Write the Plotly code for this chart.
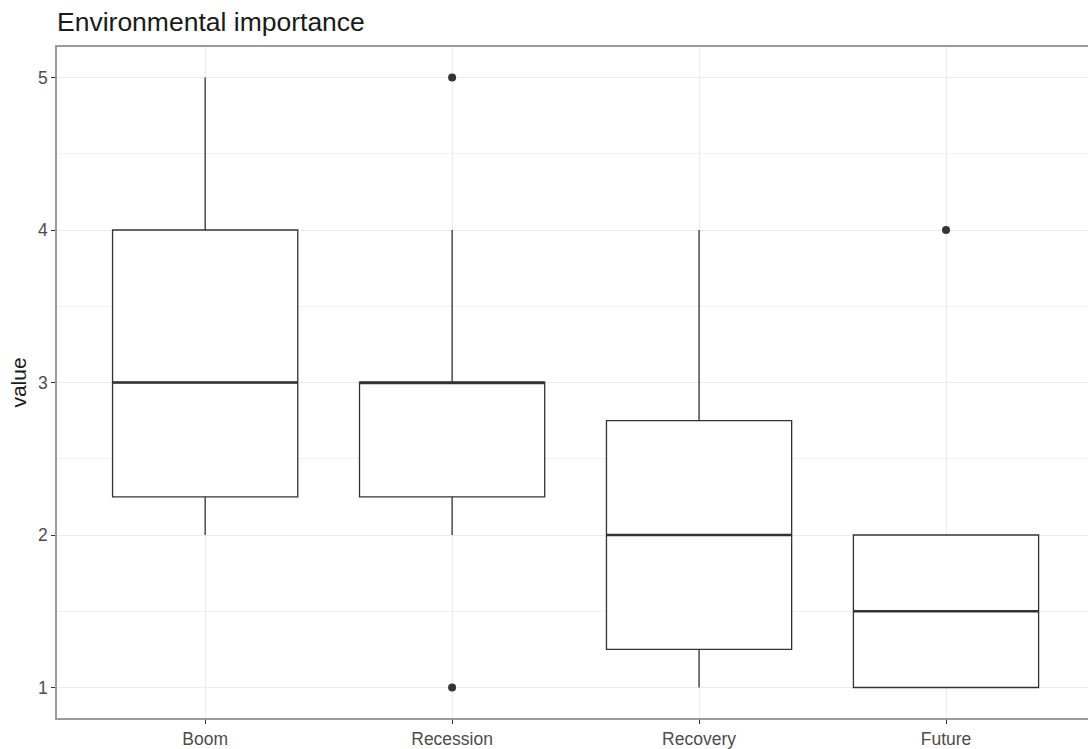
import plotly.graph_objects as go

categories = ["Boom", "Recession", "Recovery", "Future"]
q1 = [2.25, 2.25, 1.25, 1.0]
median = [3.0, 3.0, 2.0, 1.5]
q3 = [4.0, 3.0, 2.75, 2.0]
lower_whisker = [2.0, 2.0, 1.0, 1.0]
upper_whisker = [5.0, 4.0, 4.0, 2.0]
outlier_cat = ["Recession", "Recession", "Future"]
outlier_val = [5.0, 1.0, 4.0]
y_ticks = [1, 2, 3, 4, 5]

pos = list(range(len(categories)))
box_w = 0.75
dark = "#333333"
font_fam = "Liberation Sans, Arial, sans-serif"

fig = go.Figure()
fig.add_trace(go.Box(
    x=pos, q1=q1, median=median, q3=q3,
    lowerfence=lower_whisker, upperfence=upper_whisker,
    width=box_w, whiskerwidth=0, boxpoints=False,
    line=dict(color=dark, width=1.3), fillcolor="white",
    showlegend=False, hoverinfo="skip",
))
for i, m in enumerate(median):
    fig.add_trace(go.Scatter(
        x=[pos[i] - box_w / 2, pos[i] + box_w / 2], y=[m, m],
        mode="lines", line=dict(color=dark, width=2.6),
        showlegend=False, hoverinfo="skip",
    ))
fig.add_trace(go.Scatter(
    x=[categories.index(c) for c in outlier_cat], y=outlier_val,
    mode="markers", marker=dict(color=dark, size=8),
    showlegend=False, hoverinfo="skip",
))

fig.update_layout(
    width=1088, height=749,
    margin=dict(l=57, r=0, t=47, b=28),
    paper_bgcolor="white", plot_bgcolor="white",
    title=dict(text="Environmental importance", x=57 / 1088, xanchor="left",
               y=1 - 21.5 / 749, yanchor="middle",
               font=dict(family=font_fam, size=26.5, color="#1a1a1a")),
    font=dict(family=font_fam),
)
fig.update_xaxes(
    range=[-0.6, 3.575], tickmode="array", tickvals=pos, ticktext=categories,
    showgrid=True, gridcolor="#EBEBEB", gridwidth=1.1,
    showline=True, mirror=True, linecolor="#9a9a9a", linewidth=1.6,
    ticks="outside", ticklen=4, tickcolor=dark, tickwidth=1,
    tickfont=dict(size=17.5, color="#4D4D4D"), zeroline=False,
)
fig.update_yaxes(
    range=[0.8, 5.2], tickmode="array", tickvals=y_ticks,
    showgrid=True, gridcolor="#EBEBEB", gridwidth=1.1,
    minor=dict(tickmode="array", tickvals=[1.5, 2.5, 3.5, 4.5], showgrid=True,
               gridcolor="#F3F3F3", gridwidth=0.8, ticks=""),
    showline=True, mirror=False, linecolor="#9a9a9a", linewidth=1.6,
    ticks="outside", ticklen=4, tickcolor=dark, tickwidth=1,
    tickfont=dict(size=17.5, color="#4D4D4D"), zeroline=False,
    title=dict(text="value", font=dict(size=21, color="#1a1a1a"), standoff=6),
)

fig.write_html("out.html", config={"displayModeBar": False},
               post_script="document.body.style.margin='0';")
